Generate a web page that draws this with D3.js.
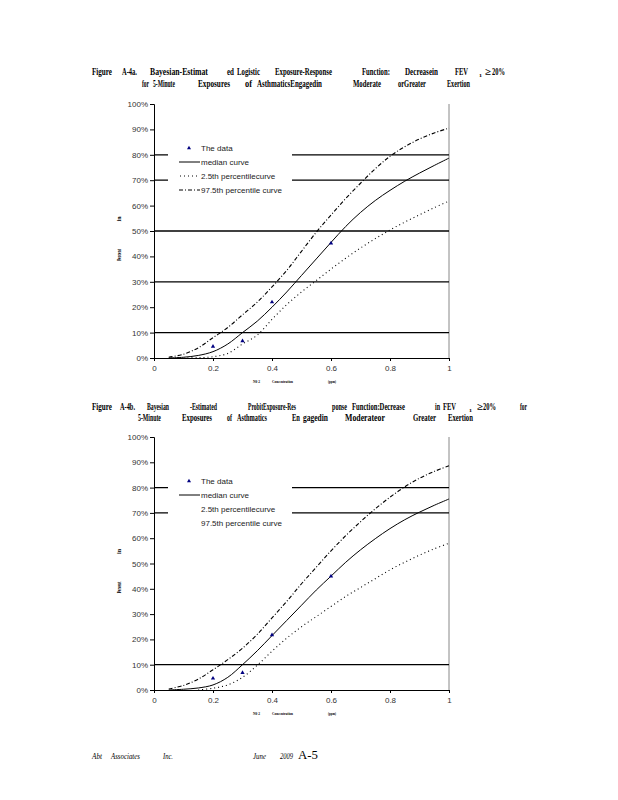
<!DOCTYPE html>
<html><head><meta charset="utf-8">
<script src="https://cdn.jsdelivr.net/npm/d3@7"></script>
<style>body{margin:0;background:#fff}svg{display:block}</style>
</head><body><svg id="c" width="618" height="800"></svg>
<script>
// ---------- data ----------
const concentration = [0,0.05,0.1,0.15,0.2,0.25,0.3,0.35,0.4,0.45,0.5,0.55,0.6,0.65,0.7,0.75,0.8,0.85,0.9,0.95,1.0];
// Figure A-4a (logistic), percent
const logisticMedian = [null,0,0.3,1,2.5,5.5,10,14.5,20,26,32.5,39,45.5,51.8,57.3,62,66,69.6,72.8,75.8,78.7];
const logisticLower  = [null,null,0,0.1,0.5,1.8,5.5,9,15.2,21,26,30.5,35,39.3,43.3,47,50.4,53.5,56.4,59.2,61.8];
const logisticUpper  = [null,0.3,1.5,4,8,12,17,22,28,34.5,42,49.5,56.3,62.8,68.8,74.5,79.4,83.2,86.2,88.6,90.5];
// Figure A-4b (probit), percent
const probitMedian = [null,0,0.3,0.8,2,5,10,15.5,21.5,27.5,33.5,39.5,45,50.5,55.4,59.8,63.8,67.3,70.3,73,75.5];
const probitLower  = [null,null,null,0,0.7,2,5,9.8,15.3,20.5,25,29,33,37,40.5,44,47.5,50.5,53.3,55.8,58];
const probitUpper  = [null,0.4,1.8,4.3,8,12,16.5,22,28.5,35,42,48.5,55,61,66.5,71.6,76.2,80.3,83.7,86.4,88.6];
// observed data
const dataX = [0.2,0.3,0.4,0.6];
const dataY1 = [4.5,6.7,22,45.2];
const dataY2 = [4.6,6.8,21.7,45];
const yTicks = [0,10,20,30,40,50,60,70,80,90,100];
const xTicks = [0,0.2,0.4,0.6,0.8,1];
const grid1 = [10,30,50,70,80];
const grid2 = [10,70,80];
const legendLabels = ["The data","median curve","2.5th percentilecurve","97.5th percentile  curve"];

// ---------- drawing ----------
const svg = d3.select("#c");
svg.append("rect").attr("width",618).attr("height",800).attr("fill","#fff");

// place a word at x, y, squeezed to width w via horizontal scale
function words(list, y, size, opts={}) {
  list.forEach(([t,x,w]) => {
    const el = svg.append("text").attr("x",0).attr("y",0).text(t)
      .attr("font-family", opts.family || "Liberation Serif, Times New Roman, serif")
      .attr("font-weight", opts.weight || "bold")
      .attr("font-style", opts.style || "normal")
      .attr("font-size", size).attr("fill","#000");
    const nat = el.node().getComputedTextLength() || 1;
    const s = w ? w/nat : 1;
    el.attr("transform", `translate(${x},${y}) scale(${s},1)`);
  });
}

function chart(cfg) {
  const x = d3.scaleLinear().domain([0,1]).range([154,449]);
  const y = d3.scaleLinear().domain([0,100]).range([cfg.bottom, cfg.top]);
  const g = svg.append("g");
  // right border
  g.append("line").attr("x1",449).attr("x2",449).attr("y1",y(100)).attr("y2",y(0))
    .attr("stroke","#888").attr("stroke-width",1);
  // gridlines
  g.selectAll(".grid").data(cfg.grid).join("line")
    .attr("x1",154).attr("x2",449).attr("y1",d=>y(d)).attr("y2",d=>y(d))
    .attr("stroke","#000").attr("stroke-width",1.3);
  // legend background
  g.append("rect").attr("x",168).attr("y",y(100)+36).attr("width",124).attr("height",57).attr("fill","#fff");
  // axes
  const ya = g.append("g").attr("transform","translate(154,0)")
    .call(d3.axisLeft(y).tickValues(yTicks).tickSize(4).tickFormat(d=>d+"%"));
  const xa = g.append("g").attr("transform",`translate(0,${y(0)})`)
    .call(d3.axisBottom(x).tickValues(xTicks).tickSize(3).tickFormat(d3.format("~g")));
  [ya,xa].forEach(a=>{
    a.selectAll("path,line").attr("stroke","#000").attr("stroke-width",1);
    a.selectAll("text").attr("font-family","Liberation Sans, Arial, sans-serif").attr("font-size",8).attr("fill","#333");
  });
  ya.selectAll("text").attr("x",-6);
  xa.selectAll("text").attr("y",7);
  // curves
  const mk = vals => d3.line().defined((d,i)=>vals[i]!==null)
    .x(d=>x(d)).y((d,i)=>y(vals[i])).curve(d3.curveCatmullRom);
  g.append("path").attr("d",mk(cfg.lower)(concentration)).attr("fill","none")
    .attr("stroke","#000").attr("stroke-width",1.1).attr("stroke-dasharray","1,3");
  g.append("path").attr("d",mk(cfg.upper)(concentration)).attr("fill","none")
    .attr("stroke","#000").attr("stroke-width",1.1).attr("stroke-dasharray","4,2,1,2");
  g.append("path").attr("d",mk(cfg.median)(concentration)).attr("fill","none")
    .attr("stroke","#000").attr("stroke-width",1);
  // points
  g.selectAll(".pt").data(dataX).join("path")
    .attr("d",d3.symbol().type(d3.symbolTriangle).size(8))
    .attr("transform",(d,i)=>`translate(${x(d)},${y(cfg.points[i])})`)
    .attr("fill","#000080");
  // legend
  const ly = y(100);
  const rows = [ly+44, ly+58, ly+72, ly+86];
  g.append("path").attr("d",d3.symbol().type(d3.symbolTriangle).size(7))
    .attr("transform",`translate(189,${rows[0]})`).attr("fill","#000080");
  g.append("line").attr("x1",179).attr("x2",200).attr("y1",rows[1]).attr("y2",rows[1]).attr("stroke","#000");
  if (cfg.fullLegend) {
    g.append("line").attr("x1",180).attr("x2",199).attr("y1",rows[2]).attr("y2",rows[2])
      .attr("stroke","#000").attr("stroke-dasharray","1,3");
    g.append("line").attr("x1",179).attr("x2",200).attr("y1",rows[3]).attr("y2",rows[3])
      .attr("stroke","#000").attr("stroke-dasharray","4,2,1,2");
  }
  g.selectAll(".lt").data(legendLabels).join("text")
    .attr("x",201).attr("y",(d,i)=>rows[i]+3).text(d=>d)
    .attr("font-family","Liberation Sans, Arial, sans-serif").attr("font-size",8).attr("fill","#222");
  // axis titles (tiny)
  words([["N0 2",253,7],["Concentration",272,21],["(ppm)",328,8]], y(0)+25, 5);
  const yl = y(50);
  svg.append("text").attr("transform",`translate(121,${yl-12}) rotate(-90)`).text("in")
    .attr("font-family","Liberation Serif, serif").attr("font-weight","bold").attr("font-size",6)
    .attr("text-anchor","middle");
  svg.append("text").attr("transform",`translate(121,${yl+24}) rotate(-90) scale(0.6,1)`).text("Percent")
    .attr("font-family","Liberation Serif, serif").attr("font-weight","bold").attr("font-size",6)
    .attr("text-anchor","middle");
}

// titles
words([["Figure",92,20],["A-4a.",122,15],["Bayesian-Estimat",150,58],["ed",227,7],["Logistic",237,23],
  ["Exposure-Response",275,57],["Function:",362,28],["Decreasein",405,33],["FEV",455,13],["≥",485,6],["20%",492,13]], 75, 10);
words([["1",479,3]], 77, 5);
words([["for",142,7],["5-Minute",153,22],["Exposures",198,32],["of",245,7],["AsthmaticsEngagedin",257,65],
  ["Moderate",353,28],["orGreater",398,28],["Exertion",447,23]], 87, 10);

words([["Figure",92,20],["A-4b.",120,15],["Bayesian",147,22],["-Estimated",190,27],["ProbitExposure-Res",248,48],
  ["ponse",332,15],["Function:Decrease",352,53],["in",435,5],["FEV",443,13],["≥",477,6],["20%",483,13],["for",520,7]], 410, 10);
words([["1",469,3]], 412, 5);
words([["5-Minute",138,23],["Exposures",182,30],["of",227,5],["Asthmatics",237,30],["En",292,8],["gagedin",303,25],
  ["Moderateor",345,40],["Greater",413,23],["Exertion",448,25]], 421, 10);

chart({top:104, bottom:358, grid:grid1, median:logisticMedian, lower:logisticLower, upper:logisticUpper, points:dataY1, fullLegend:true});
chart({top:437, bottom:690, grid:grid2, median:probitMedian, lower:probitLower, upper:probitUpper, points:dataY2, fullLegend:false});

// footer
words([["Abt",92,10],["Associates",111,29],["Inc.",163,10],["June",253,13],["2009",280,13]], 759, 9, {style:"italic", weight:"normal"});
words([["A-5",298,20]], 759, 13, {weight:"normal"});
</script></body></html>
